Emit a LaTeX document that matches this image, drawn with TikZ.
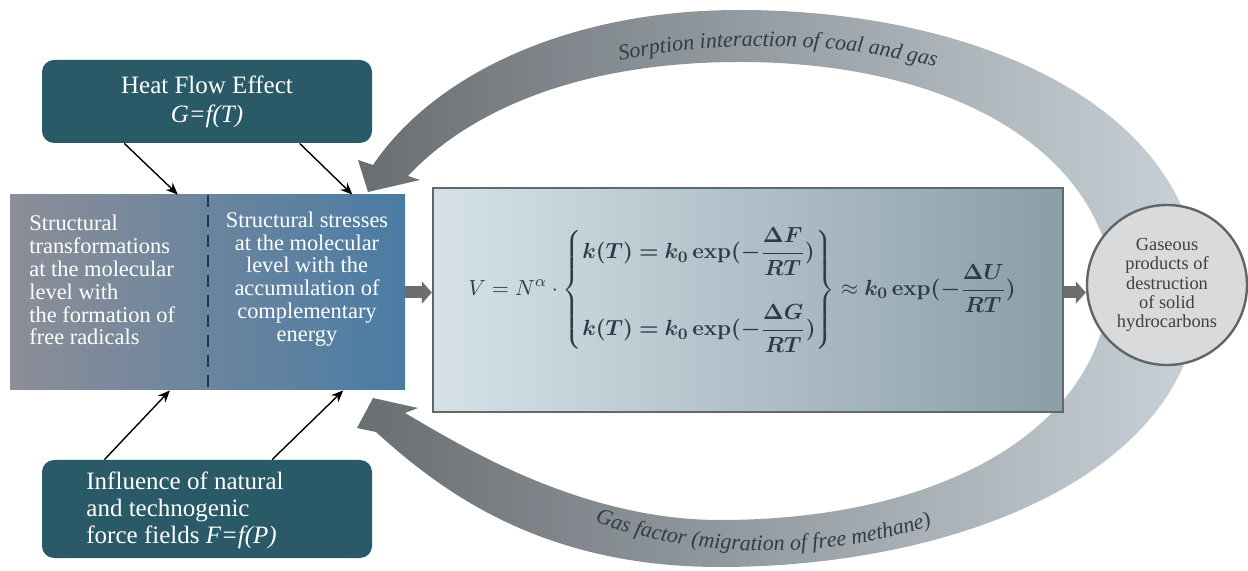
\documentclass[tikz,border=0pt]{standalone}
\usepackage{fontspec}
\setmainfont{Liberation Serif}
\usepackage{amsmath,bm}
\usetikzlibrary{arrows.meta,calc,decorations.text}
\definecolor{boxteal}{RGB}{42,90,104}
\definecolor{lbGray}{RGB}{140,142,152}
\definecolor{lbBlue}{RGB}{74,124,164}
\definecolor{dashNavy}{RGB}{30,55,80}
\definecolor{mbLeft}{RGB}{214,226,232}
\definecolor{mbRight}{RGB}{138,158,168}
\definecolor{mbBorder}{RGB}{100,104,108}
\definecolor{circFill}{RGB}{216,218,220}
\definecolor{circBorder}{RGB}{100,100,100}
\definecolor{bandDark}{RGB}{105,110,114}
\definecolor{bandLight}{RGB}{200,210,216}
\definecolor{arcText}{RGB}{50,60,70}
\definecolor{formulaCol}{RGB}{45,60,72}
\definecolor{smallArrow}{RGB}{110,110,110}
\begin{document}
\begin{tikzpicture}[x=0.5pt,y=0.5pt,
  tealbox/.style={fill=boxteal, rounded corners=6pt, text=white, minimum width=165pt, inner sep=0pt, align=center},
  blackarrow/.style={-{Stealth[length=6pt,width=5pt]}, line width=0.7pt, black},
  grayarrow/.style={-{Triangle[length=5pt,width=11pt]}, line width=6pt, draw=smallArrow},
  band/.style={left color=bandDark, right color=bandLight, draw=none},
  arclabel/.style={decorate, decoration={text along path, text align=center, text color=arcText, text={#1}}},
  whitetext/.style={text=white, font=\fontsize{11.2}{11.4}\selectfont, inner sep=0pt}
]
\useasboundingbox (0,0) rectangle (1248,-571);

% circular bands
\path[band] (1200,-300) .. controls (1205,-110) and (980,-10) .. (740,-10)
  .. controls (560,-10) and (430,-80) .. (373,-165)
  -- (358,-160) -- (368,-192) -- (420,-180) -- (408,-176)
  .. controls (470,-110) and (580,-62) .. (740,-62)
  .. controls (950,-62) and (1110,-150) .. (1115,-300) -- cycle;
\path[band] (1200,-280) .. controls (1205,-470) and (960,-567) .. (720,-567)
  .. controls (540,-567) and (440,-490) .. (376,-432)
  -- (357,-428) -- (373,-398) -- (418,-408) -- (405,-413)
  .. controls (460,-445) and (580,-520) .. (720,-520)
  .. controls (940,-520) and (1105,-430) .. (1110,-280) -- cycle;

\path[arclabel={|\rmfamily\itshape\fontsize{11}{11}\selectfont|Sorption interaction of coal and gas}]
  (532,-90) .. controls (652,-30) and (892,-30) .. (1022,-100);
\path[arclabel={|\rmfamily\itshape\fontsize{11}{11}\selectfont|Gas factor (migration of free methane)}]
  (520,-480) .. controls (640,-575) and (880,-570) .. (1010,-490);

% boxes
\node[tealbox, minimum height=41.5pt, font=\fontsize{12.5}{14.5}\selectfont] (heat) at (207,-101.5)
  {Heat Flow Effect\\\textit{G=f(T)}};
\node[tealbox, minimum height=49pt] (influence) at (207,-509) {};
\node[anchor=west, align=left, text=white, inner sep=0pt, font=\fontsize{12.5}{13.5}\selectfont] (inftext) at (86,-510)
  {Influence of natural\\and technogenic\\force fields \textit{F=f(P)}};

\node[left color=lbGray, right color=lbBlue, minimum width=197.5pt, minimum height=97.5pt, inner sep=0pt] (struct) at (207.5,-292.5) {};
\draw[dashNavy, line width=1pt, dash pattern=on 6pt off 4pt]
  ($(struct.north west)!0.501!(struct.north east)$) -- ($(struct.south west)!0.501!(struct.south east)$);
\node[whitetext, anchor=north west, align=left] (sleft) at (29,-215)
  {Structural\\transformations\\at the molecular\\level with\\the formation of\\free radicals};
\node[whitetext, align=center] (sright) at (307,-279)
  {Structural stresses\\at the molecular\\level with the\\accumulation of\\complementary\\energy};

\node[draw=mbBorder, line width=1.2pt, left color=mbLeft, right color=mbRight, minimum width=315pt, minimum height=112pt, inner sep=0pt] (kin) at (748,-300) {};
\node[text=formulaCol, font=\fontsize{11}{13}\selectfont, inner sep=0pt] (formula) at (742,-290)
  {$\displaystyle V = N^{\alpha}\cdot\left\{\begin{array}{@{}l@{}}
    \bm{k(T) = k_0\,\mathbf{exp}(-\dfrac{\Delta F}{RT})}\\[19pt]
    \bm{k(T) = k_0\,\mathbf{exp}(-\dfrac{\Delta G}{RT})}\end{array}\right\}
    \approx \bm{k_0\,\mathbf{exp}(-\dfrac{\Delta U}{RT})}$};

\node[circle, draw=circBorder, line width=1.2pt, fill=circFill, minimum size=80pt, inner sep=0pt, align=center,
  text=black!75, font=\fontsize{9.2}{9.6}\selectfont] (gas) at (1167,-285)
  {Gaseous\\products of\\destruction\\of solid\\hydrocarbons};

% connectors
\draw[blackarrow] ($(heat.south west)!0.25!(heat.south east)$) -- ($(struct.north west)!0.425!(struct.north east)$);
\draw[blackarrow] ($(heat.south west)!0.78!(heat.south east)$) -- ($(struct.north west)!0.866!(struct.north east)$);
\draw[blackarrow] ($(influence.north west)!0.19!(influence.north east)$) -- ($(struct.south west)!0.405!(struct.south east)$);
\draw[blackarrow] ($(influence.north west)!0.697!(influence.north east)$) -- ($(struct.south west)!0.843!(struct.south east)$);
\draw[grayarrow] (struct.east) -- (kin.west |- struct.east);
\draw[grayarrow] (kin.east |- struct.east) -- (gas.west |- struct.east);
\end{tikzpicture}
\end{document}
